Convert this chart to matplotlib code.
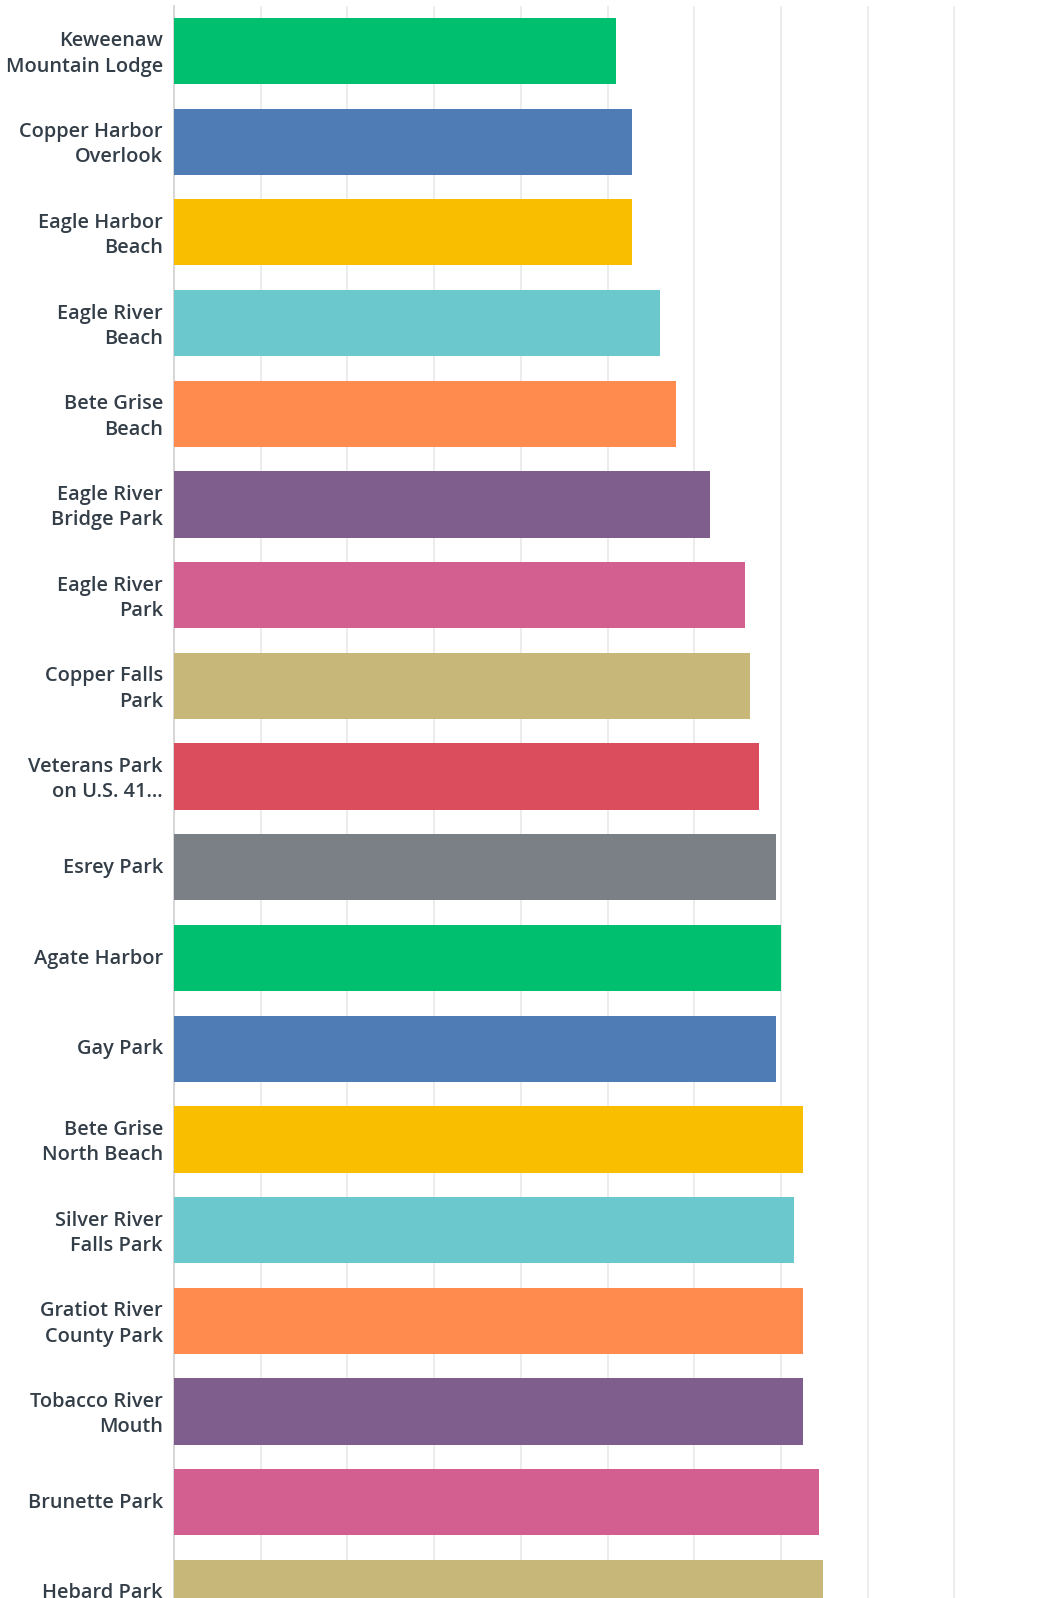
import matplotlib.pyplot as plt
import matplotlib.transforms as mtransforms

# Park ratings, top to bottom
labels = ["Keweenaw\nMountain Lodge", "Copper Harbor\nOverlook", "Eagle Harbor\nBeach",
          "Eagle River\nBeach", "Bete Grise\nBeach", "Eagle River\nBridge Park",
          "Eagle River\nPark", "Copper Falls\nPark", "Veterans Park\non U.S. 41...",
          "Esrey Park", "Agate Harbor", "Gay Park", "Bete Grise\nNorth Beach",
          "Silver River\nFalls Park", "Gratiot River\nCounty Park", "Tobacco River\nMouth",
          "Brunette Park", "Hebard Park"]
values = [5.10, 5.28, 5.28, 5.61, 5.79, 6.18, 6.59, 6.64, 6.75,
          6.94, 7.00, 6.94, 7.25, 7.15, 7.25, 7.25, 7.44, 7.49]
palette = ["#00BF6F", "#507CB6", "#F9BE00", "#6BC8CD", "#FF8B4F",
           "#7F5E8E", "#D25F90", "#C7B879", "#DB4D5C", "#7A8085"]
colors = [palette[i % len(palette)] for i in range(len(values))]

W, H = 1037, 1598
fig = plt.figure(figsize=(W / 100, H / 100), dpi=100)
ax = fig.add_axes([174 / W, 0, 1 - 174 / W, 1 - 6 / H])

y = list(range(len(values)))
ax.barh(y, values, height=0.73, color=colors, zorder=3)

ax.set_xlim(0, (W - 174) / 86.7)
ax.set_ylim(17.056, -0.496)
ax.set_xticks(range(1, 10))
ax.tick_params(axis="x", length=0, labelbottom=False)
ax.grid(axis="x", color="#ebebeb", linewidth=1.3, zorder=0)

ax.set_yticks(y)
ax.set_yticklabels(labels, fontfamily="Open Sans", fontweight=600,
                   fontsize=14.4, color="#333e48", linespacing=1.35)
ax.tick_params(axis="y", length=0, pad=8)
# nudge labels up a little
shift = mtransforms.ScaledTranslation(0, 2 / 100, fig.dpi_scale_trans)
for lab in ax.get_yticklabels():
    lab.set_transform(lab.get_transform() + shift)

for s in ["top", "right", "bottom"]:
    ax.spines[s].set_visible(False)
ax.spines["left"].set_color("#d3d3d3")
ax.spines["left"].set_linewidth(1.3)

fig.savefig("out.png", dpi=100)
